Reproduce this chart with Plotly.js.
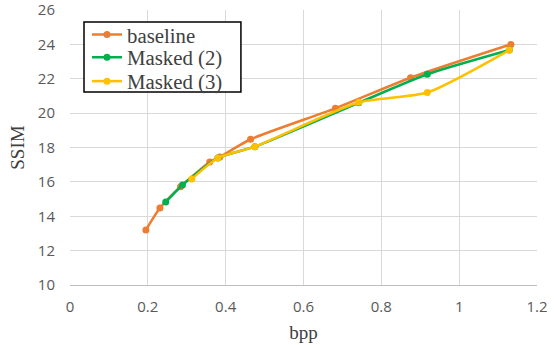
<!DOCTYPE html>
<html><head><meta charset="utf-8">
<script src="https://cdn.plot.ly/plotly-3.0.1.min.js"></script>
<style>body{margin:0;background:#fff}#c{width:554px;height:345px}</style>
</head><body><div id="c"></div>
<script>
const baselineX = [0.195, 0.231, 0.284, 0.359, 0.385, 0.464, 0.682, 0.875, 1.133];
const baselineY = [13.2, 14.48, 15.72, 17.15, 17.45, 18.48, 20.28, 22.06, 24.0];
const masked2X = [0.246, 0.289, 0.38, 0.475, 0.742, 0.918, 1.129];
const masked2Y = [14.83, 15.82, 17.39, 18.05, 20.6, 22.26, 23.67];
const masked3X = [0.313, 0.38, 0.475, 0.742, 0.918, 1.129];
const masked3Y = [16.17, 17.39, 18.05, 20.63, 21.2, 23.67];
const seriesNames = ["baseline", "Masked (2)", "Masked (3)"];
const colors = ["#ED7D31", "#00B050", "#FFC000"];
const xTicks = [0, 0.2, 0.4, 0.6, 0.8, 1, 1.2];
const xTickText = ["0", "0.2", "0.4", "0.6", "0.8", "1", "1.2"];
const yTicks = [10, 12, 14, 16, 18, 20, 22, 24, 26];

const legendIds = ["legend", "legend2", "legend3"];
const legendRowY = [0.909, 0.8265, 0.7396];

function tr(x, y, i) {
  return {x: x, y: y, name: seriesNames[i], mode: "lines+markers", type: "scatter",
    legend: legendIds[i],
    line: {color: colors[i], width: 2.5, shape: "spline", smoothing: 0.6},
    marker: {color: colors[i], size: 7}};
}
const data = [tr(baselineX, baselineY, 0), tr(masked2X, masked2Y, 1), tr(masked3X, masked3Y, 2)];
const tickFont = {family: "Open Sans, sans-serif", size: 15, color: "#595959"};
const titleFont = {family: "Liberation Serif, serif", size: 19, color: "#404040"};
const layout = {
  width: 554, height: 345,
  margin: {l: 70, r: 17, t: 10, b: 60},
  paper_bgcolor: "#fff", plot_bgcolor: "#fff",
  showlegend: true,
  shapes: [{type: "rect", xref: "paper", yref: "paper", x0: 0.03, x1: 0.366, y0: 0.702, y1: 0.956,
    fillcolor: "#fff", line: {color: "#000", width: 1.5}, layer: "above"}],
  xaxis: {range: [0, 1.2], tickvals: xTicks, ticktext: xTickText, showgrid: true,
    gridcolor: "#d9d9d9", gridwidth: 1, zeroline: false, showline: true,
    linecolor: "#bfbfbf", linewidth: 1, ticks: "", tickfont: tickFont, ticklabelstandoff: 8,
    ticklabeloverflow: "allow",
    title: {text: "bpp", font: titleFont, standoff: 10}},
  yaxis: {range: [10, 26], tickvals: yTicks, showgrid: true, gridcolor: "#d9d9d9",
    gridwidth: 1, zeroline: false, showline: false, ticks: "", tickfont: tickFont, ticklabelstandoff: 14,
    ticklabeloverflow: "allow",
    title: {text: "SSIM", font: titleFont, standoff: 8}}
};
legendIds.forEach(function (id, i) {
  layout[id] = {x: 0.0364, y: legendRowY[i], xanchor: "left", yanchor: "middle",
    bgcolor: "rgba(0,0,0,0)", borderwidth: 0,
    font: {family: "Liberation Serif, serif", size: 20.8, color: "#404040"}, itemwidth: 30};
});
Plotly.newPlot("c", data, layout, {displayModeBar: false, staticPlot: true});
</script></body></html>
